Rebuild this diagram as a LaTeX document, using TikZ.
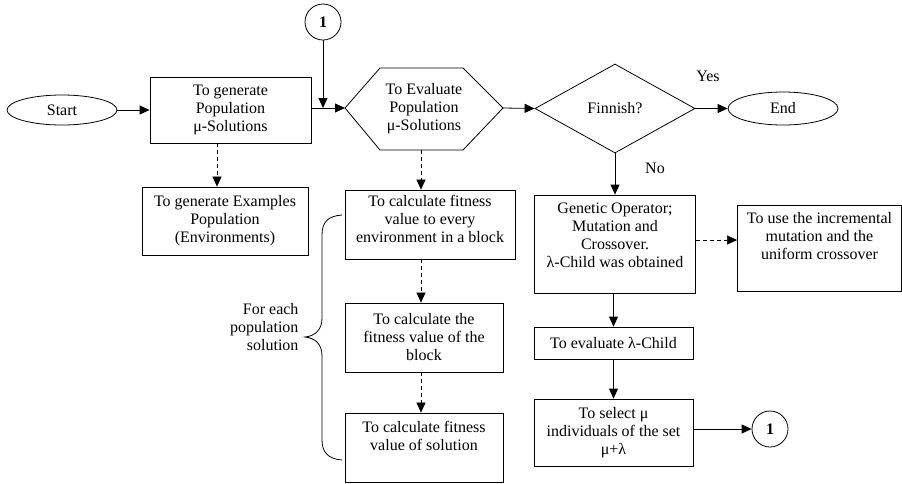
\documentclass[tikz,border=0pt]{standalone}
\usepackage{fontspec}
\setmainfont{Liberation Serif}
\newfontfamily\tnr{Liberation Serif}
\usetikzlibrary{arrows.meta,shapes.geometric}
\begin{document}
\begin{tikzpicture}[x=1pt,y=-1pt,
  every node/.style={font=\tnr\fontsize{16}{18}\selectfont},
  box/.style={draw,line width=0.8pt,align=center,inner sep=0pt},
  oval/.style={ellipse,draw,line width=0.8pt,inner sep=0pt},
  conn/.style={circle,draw,line width=0.8pt,inner sep=0pt,minimum size=36pt},
  arr/.style={line width=0.8pt,-{Triangle[length=10pt,width=9pt]}},
  darr/.style={line width=0.6pt,dash pattern=on 4pt off 3pt,-{Triangle[length=10pt,width=9pt]}}]
\useasboundingbox (0,0) rectangle (902,483);

% top row
\node[oval,minimum width=110pt,minimum height=30pt] (start) at (62,110) {Start};
\node[box,minimum width=161pt,minimum height=66pt] (gen1) at (230.5,110) {To generate\\Population\\μ-Solutions};
\node[conn] (c1) at (323,22) {\textbf{1}};

\coordinate (hl) at (345,108);
\coordinate (htl) at (380,68);
\coordinate (htr) at (463,68);
\coordinate (hr) at (503,108);
\coordinate (hbr) at (463,150);
\coordinate (hbl) at (380,150);
\coordinate (hb) at (421,150);
\draw[line width=0.8pt] (hl) -- (htl) -- (htr) -- (hr) -- (hbr) -- (hbl) -- cycle;
\node[align=center] (hex) at (424,109) {To Evaluate\\Population\\μ-Solutions};

\node[diamond,draw,line width=0.8pt,inner sep=0pt,minimum width=160pt,minimum height=89pt] (fin) at (615,108.5) {Finnish?};
\node[oval,minimum width=110pt,minimum height=33pt] (end) at (783,108.5) {End};
\node (yes) at (708,76) {Yes};
\node (no) at (655,168) {No};

% left column
\node[box,minimum width=166pt,minimum height=68pt] (ex) at (225,221) {To generate Examples\\Population\\(Environments)};

% middle column
\node[box,minimum width=170pt,minimum height=69pt] (fit1) at (430,224.5) {To calculate fitness\\value to every\\environment in a block\\[-12pt]\strut};
\node[box,minimum width=158pt,minimum height=69pt] (fit2) at (424,337.5) {To calculate the\\fitness value of the\\block};
\node[box,minimum width=158pt,minimum height=69pt] (fit3) at (424,447.5) {To calculate fitness\\value of solution\\\strut};

% right column
\node[box,minimum width=161pt,minimum height=98pt] (gop) at (615,244) {Genetic Operator;\\Mutation and\\Crossover.\\λ-Child was obtained\\[-6pt]\strut};
\node[box,minimum width=164pt,minimum height=86pt] (use) at (819.5,248) {To use the incremental\\mutation and the\\uniform crossover\\\strut};
\node[box,minimum width=159pt,minimum height=32pt] (evl) at (613.5,343) {To evaluate λ-Child};
\node[box,minimum width=159pt,minimum height=67pt] (sel) at (613.5,432.5) {To select μ\\individuals of the set\\μ+λ};
\node[conn] (c2) at (770,429) {\textbf{1}};

% brace
\coordinate (btip) at (305,337);
\draw[line width=0.8pt] (342,215) .. controls (328,216) and (322,222) .. (322,235) -- (322,318)
  .. controls (322,330) and (315,336) .. (btip)
  .. controls (315,338) and (322,344) .. (322,356) -- (322,440)
  .. controls (322,452) and (328,459) .. (342,460);
\node[align=right,anchor=east] (foreach) at (302,327) {For each\\population\\solution};

% connectors
\coordinate (j) at (323,108);
\coordinate (a1) at (217,0);
\coordinate (uarr) at (0,240);
\draw[arr] (start) -- (gen1);
\draw[arr] (gen1.east |- hl) -- (hl);
\draw[arr] (c1) -- (j);
\draw[arr] (hr) -- (fin.west);
\draw[arr] (fin) -- (end);
\draw[arr] (fin.south) -- (gop.north);
\draw[darr] (gop.east |- uarr) -- (use.west |- uarr);
\draw[arr] (gop.south -| evl.north) -- (evl.north);
\draw[arr] (evl.south) -- (sel.north);
\draw[arr] (sel.east |- c2) -- (c2.west);
\draw[darr] (a1 |- gen1.south) -- (a1 |- ex.north);
\draw[darr] (hb) -- (hb |- fit1.north);
\draw[darr] (hb |- fit1.south) -- (hb |- fit2.north);
\draw[darr] (hb |- fit2.south) -- (hb |- fit3.north);
\end{tikzpicture}
\end{document}
